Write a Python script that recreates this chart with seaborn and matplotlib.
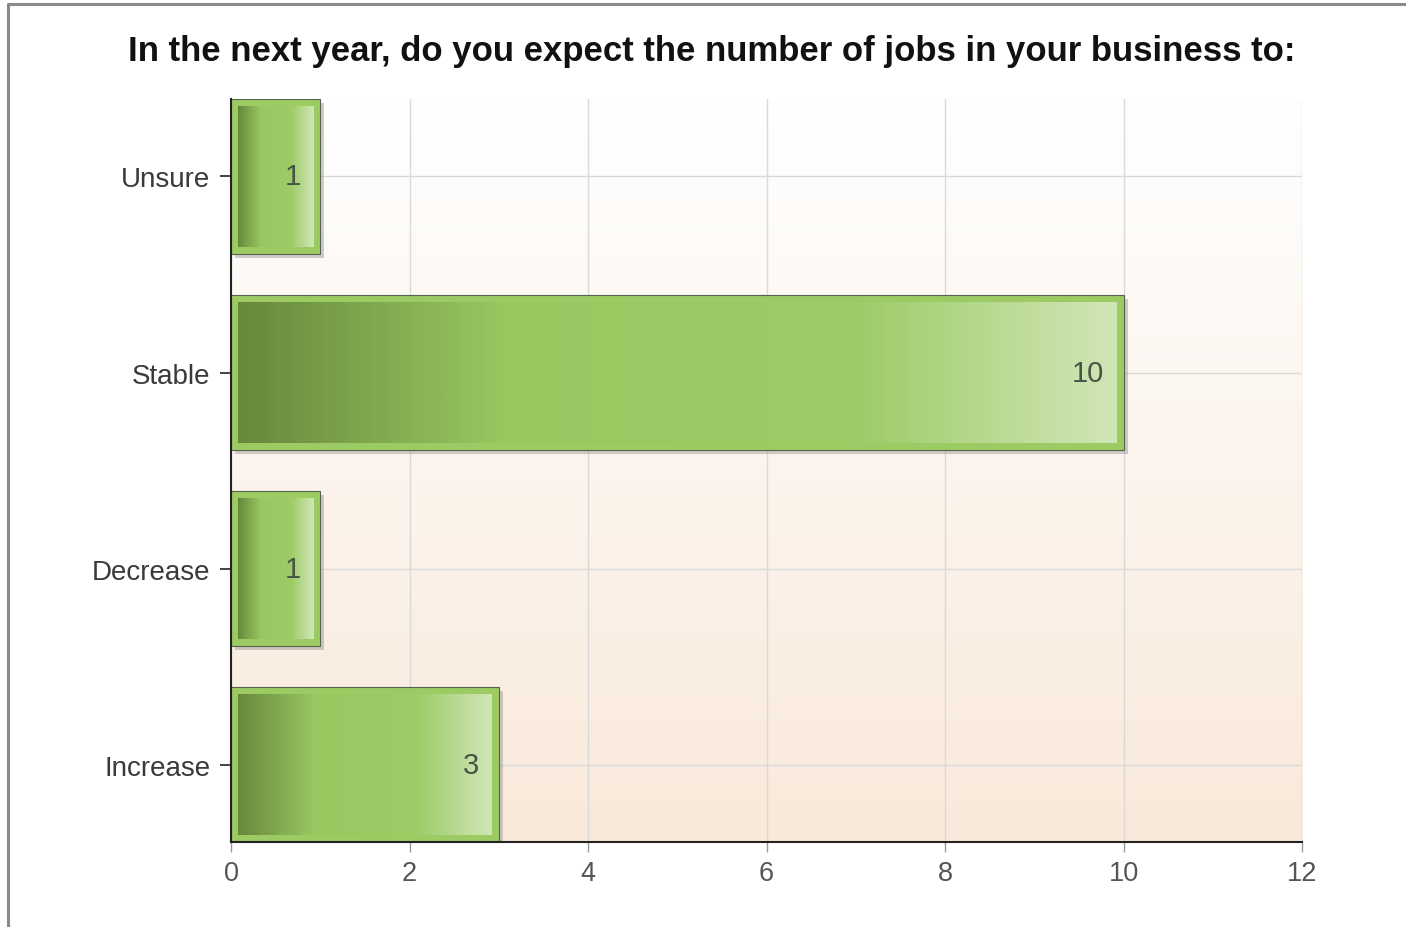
import numpy as np
import pandas as pd
import seaborn as sns
import matplotlib
matplotlib.use("Agg")
import matplotlib.pyplot as plt
import matplotlib.patheffects as pe
from matplotlib.colors import LinearSegmentedColormap
from matplotlib.lines import Line2D

# data
categories = ["Unsure", "Stable", "Decrease", "Increase"]
counts = [1, 10, 1, 3]
x_ticks = [0, 2, 4, 6, 8, 10, 12]
title = "In the next year, do you expect the number of jobs in your business to:"

sns.set_theme(style="white")
plt.rcParams["font.family"] = ["Liberation Sans", "DejaVu Sans"]

df = pd.DataFrame({"answer": categories, "count": counts})

fig = plt.figure(figsize=(14.06, 9.28), dpi=100)
ax = fig.add_axes([0.1643, 0.0916, 0.7618, 0.8006])

sns.barplot(data=df, x="count", y="answer", orient="h", width=0.79,
            color="#9ccb64", saturation=1, edgecolor="#55634d", linewidth=0.8, ax=ax)

ax.set_xlim(0, 12)
ax.set_ylim(len(categories) - 1 + 0.395, -0.395)

# background gradient inside the plot area
bg = LinearSegmentedColormap.from_list("bg", ["#ffffff", "#f9e9da"])
ax.imshow(np.linspace(0, 1, 256).reshape(-1, 1), cmap=bg, aspect="auto",
          extent=[0, 1, 0, 1], transform=ax.transAxes, zorder=0,
          origin="upper")

ax.set_xticks(x_ticks)
ax.grid(True, color="#d9d9d9", linewidth=1)
ax.set_axisbelow(True)
for s in ["top", "right"]:
    ax.spines[s].set_visible(False)
for s in ["left", "bottom"]:
    ax.spines[s].set_color("#222222")
    ax.spines[s].set_linewidth(1.5)
    ax.spines[s].set_zorder(5)

ax.tick_params(axis="y", left=True, length=8, width=1.2, color="#222222",
               labelsize=20, labelcolor="#3a3a3a", pad=7)
ax.tick_params(axis="x", bottom=True, length=7, width=1, color="#999999",
               labelsize=19.5, labelcolor="#555555", pad=6)
ax.set_xlabel("")
ax.set_ylabel("")

# gradient fill and shadow for the bars
grad = LinearSegmentedColormap.from_list(
    "bar", [(0, "#68883c"), (0.3, "#99c760"), (0.7, "#9dcb66"), (1, "#d0e6b7")])
fig.canvas.draw()
inv = ax.transData.inverted()
for p, v in zip(ax.patches, counts):
    p.set_path_effects([pe.SimplePatchShadow(offset=(3, -3), shadow_rgbFace="#888888",
                                             alpha=0.4), pe.Normal()])
    x0, y0 = p.get_x(), p.get_y()
    x1, y1 = x0 + p.get_width(), y0 + p.get_height()
    (dx0, dy0), (dx1, dy1) = ax.transData.transform([(x0, y0), (x1, y1)])
    ins = 7
    lo = inv.transform((dx0 + ins, min(dy0, dy1) + ins))
    hi = inv.transform((dx1 - ins, max(dy0, dy1) - ins))
    ax.imshow(np.linspace(0, 1, 256).reshape(1, -1), cmap=grad, aspect="auto",
              extent=[lo[0], hi[0], lo[1], hi[1]], zorder=3, interpolation="bilinear")
    ax.annotate(str(v), (x1, y0 + p.get_height() / 2), xytext=(-14, 0),
                textcoords="offset points", ha="right", va="center",
                fontsize=21, color="#465446", zorder=4)

ax.set_xlim(0, 12)
ax.set_ylim(len(categories) - 1 + 0.395, -0.395)

fig.text(0.506, 0.945, title, ha="center", va="center", fontsize=25,
         fontweight="bold", color="#111111")

# outer frame (left and top edges visible)
fx = 8 / 1406
fy = 1 - 5 / 928
fig.add_artist(Line2D([fx, fx, 1], [0, fy, fy], transform=fig.transFigure,
                      color="#8a8a8a", linewidth=2.2))

fig.savefig("out.png", dpi=100)
